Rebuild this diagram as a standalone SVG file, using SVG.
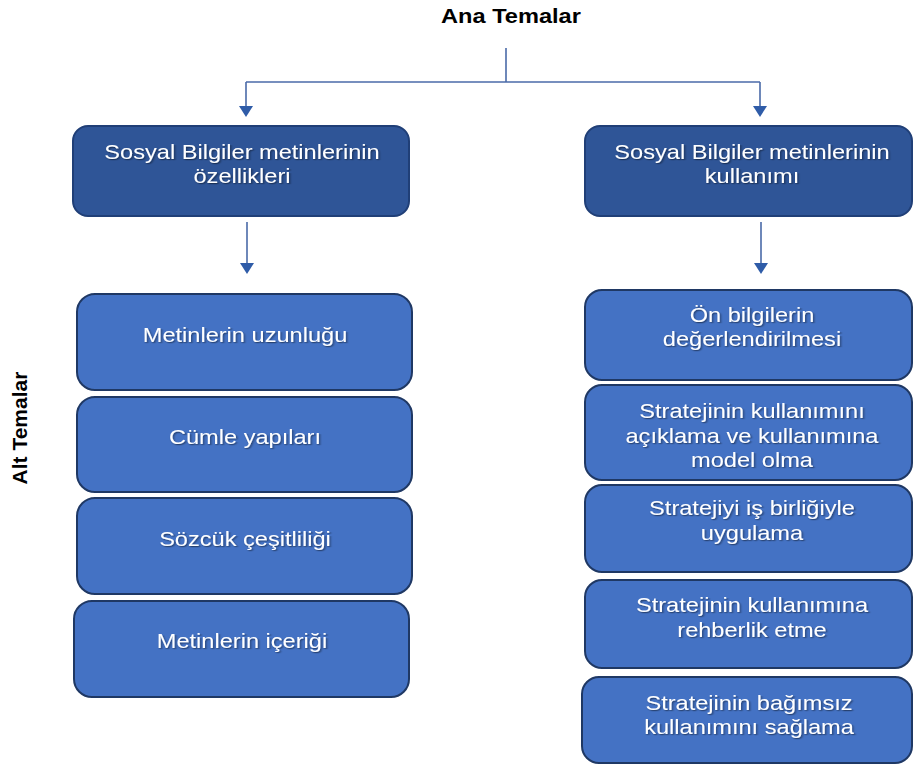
<svg xmlns="http://www.w3.org/2000/svg" width="914" height="764" viewBox="0 0 914 764">
  <defs>
    <style>
      .main { fill: #2F5597; stroke: #203F77; stroke-width: 2; }
      .sub { fill: #4472C4; stroke: #1F3864; stroke-width: 2; }
      .wt { font-family: "Liberation Sans", Arial, sans-serif; font-size: 20px; fill: #FFFFFF; text-anchor: middle; filter: url(#sh); }
      .hd { font-family: "Liberation Sans", Arial, sans-serif; font-weight: bold; fill: #000000; text-anchor: middle; }
      .ln { fill: none; stroke: #4A6AA8; stroke-width: 1.6; }
    </style>
    <filter id="sh" x="-10%" y="-30%" width="120%" height="160%">
      <feDropShadow dx="1" dy="1.2" stdDeviation="0.7" flood-color="#000000" flood-opacity="0.45"/>
    </filter>
    <marker id="ah" viewBox="0 0 14 12" refX="7" refY="12" markerWidth="14" markerHeight="12" markerUnits="userSpaceOnUse" orient="auto-start-reverse">
      <path d="M0,0 L14,0 L7,12 Z" fill="#2F5CA8"/>
    </marker>
  </defs>
  <rect width="914" height="764" fill="#FFFFFF"/>

  <g id="title">
    <text class="hd" font-size="20" transform="translate(511 0) scale(1.18 1)" x="0" y="23">Ana Temalar</text>
  </g>
  <g id="alt-temalar">
    <text class="hd" font-size="21" transform="translate(27 428) rotate(-90)" x="0" y="0">Alt Temalar</text>
  </g>

  <g id="connectors">
    <path class="ln" d="M506,48 L506,82"/>
    <path class="ln" d="M246,82 L760,82"/>
    <path class="ln" d="M246,82 L246,106" />
    <path d="M239,106 L253,106 L246,117 Z" fill="#2F5CA8"/>
    <path class="ln" d="M760,82 L760,106"/>
    <path d="M753,106 L767,106 L760,117 Z" fill="#2F5CA8"/>
    <path class="ln" d="M247,222 L247,263"/>
    <path d="M240,263 L254,263 L247,274 Z" fill="#2F5CA8"/>
    <path class="ln" d="M761,222 L761,263"/>
    <path d="M754,263 L768,263 L761,274 Z" fill="#2F5CA8"/>
  </g>

  <g id="node-ozellikler">
    <rect class="main" x="73" y="126" width="336" height="90" rx="15"/>
    <g transform="translate(242 0) scale(1.18 1)">
      <text class="wt" x="0" y="159">Sosyal Bilgiler metinlerinin</text>
      <text class="wt" x="0" y="183">özellikleri</text>
    </g>
  </g>
  <g id="node-kullanim">
    <rect class="main" x="585" y="126" width="327" height="90" rx="15"/>
    <g transform="translate(752 0) scale(1.18 1)">
      <text class="wt" x="0" y="159">Sosyal Bilgiler metinlerinin</text>
      <text class="wt" x="0" y="183">kullanımı</text>
    </g>
  </g>

  <g id="node-uzunluk">
    <rect class="sub" x="77" y="294" width="335" height="96" rx="18"/>
    <g transform="translate(245 0) scale(1.18 1)"><text class="wt" x="0" y="342">Metinlerin uzunluğu</text></g>
  </g>
  <g id="node-cumle">
    <rect class="sub" x="77" y="397" width="335" height="95" rx="18"/>
    <g transform="translate(245 0) scale(1.18 1)"><text class="wt" x="0" y="444">Cümle yapıları</text></g>
  </g>
  <g id="node-sozcuk">
    <rect class="sub" x="77" y="498" width="335" height="96" rx="18"/>
    <g transform="translate(245 0) scale(1.18 1)"><text class="wt" x="0" y="546">Sözcük çeşitliliği</text></g>
  </g>
  <g id="node-icerik">
    <rect class="sub" x="74" y="601" width="335" height="96" rx="18"/>
    <g transform="translate(242 0) scale(1.18 1)"><text class="wt" x="0" y="648">Metinlerin içeriği</text></g>
  </g>

  <g id="node-onbilgi">
    <rect class="sub" x="585" y="290" width="327" height="90" rx="17"/>
    <g transform="translate(752 0) scale(1.18 1)">
      <text class="wt" x="0" y="322">Ön bilgilerin</text>
      <text class="wt" x="0" y="346">değerlendirilmesi</text>
    </g>
  </g>
  <g id="node-aciklama">
    <rect class="sub" x="585" y="385" width="327" height="95" rx="17"/>
    <g transform="translate(752 0) scale(1.18 1)">
      <text class="wt" x="0" y="418">Stratejinin kullanımını</text>
      <text class="wt" x="0" y="443">açıklama ve kullanımına</text>
      <text class="wt" x="0" y="467">model olma</text>
    </g>
  </g>
  <g id="node-isbirligi">
    <rect class="sub" x="585" y="485" width="327" height="87" rx="17"/>
    <g transform="translate(752 0) scale(1.18 1)">
      <text class="wt" x="0" y="515">Stratejiyi iş birliğiyle</text>
      <text class="wt" x="0" y="540">uygulama</text>
    </g>
  </g>
  <g id="node-rehberlik">
    <rect class="sub" x="585" y="580" width="327" height="88" rx="17"/>
    <g transform="translate(752 0) scale(1.18 1)">
      <text class="wt" x="0" y="612">Stratejinin kullanımına</text>
      <text class="wt" x="0" y="637">rehberlik etme</text>
    </g>
  </g>
  <g id="node-bagimsiz">
    <rect class="sub" x="582" y="677" width="330" height="86" rx="17"/>
    <g transform="translate(749 0) scale(1.18 1)">
      <text class="wt" x="0" y="710">Stratejinin bağımsız</text>
      <text class="wt" x="0" y="734">kullanımını sağlama</text>
    </g>
  </g>
</svg>
